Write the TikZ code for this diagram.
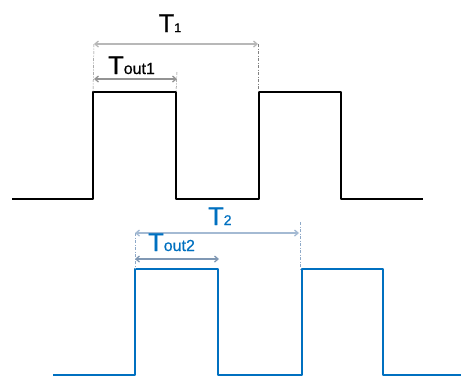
\documentclass[tikz,border=0pt]{standalone}
\usepackage{fontspec}
\setmainfont{Liberation Sans}
\newfontfamily\lblfont[FakeBold=0.6]{Liberation Sans}
\usetikzlibrary{arrows.meta}
\definecolor{wblue}{HTML}{0070C0}
\definecolor{agray}{HTML}{B8B8B8}
\definecolor{ablue}{HTML}{8EA9C8}
\newcommand\sigT[2]{T{\fontsize{#1}{#1}\selectfont #2}}
\tikzset{
  wave/.style={line width=2.8pt, line join=round},
  dim/.style={line width=1.3pt, {Straight Barb[length=3.5pt,width=6pt]}-{Straight Barb[length=3.5pt,width=6pt]}},
  ext/.style={line width=0.5pt, dash pattern=on 3pt off 1.5pt on 1pt off 1.5pt},
  lbl/.style={font=\lblfont\fontsize{25.5}{25.5}\selectfont, inner sep=0pt, anchor=base west},
}
\begin{document}
\begin{tikzpicture}[x=1pt,y=-1pt]
\useasboundingbox (0,0) rectangle (461,376);
% black waveform
\coordinate (b0) at (12,199);
\coordinate (b1) at (93,199);
\coordinate (b2) at (93,92);
\coordinate (b3) at (176,92);
\coordinate (b4) at (176,199);
\coordinate (b5) at (259,199);
\coordinate (b6) at (259,92);
\coordinate (b7) at (341,92);
\coordinate (b8) at (341,199);
\coordinate (b9) at (423,199);
\draw[wave] (b0)--(b1)--(b2)--(b3)--(b4)--(b5)--(b6)--(b7)--(b8)--(b9);
% blue waveform
\coordinate (c0) at (53,375);
\coordinate (c1) at (135,375);
\coordinate (c2) at (135,269);
\coordinate (c3) at (218,269);
\coordinate (c4) at (218,375);
\coordinate (c5) at (302,375);
\coordinate (c6) at (302,269);
\coordinate (c7) at (383,269);
\coordinate (c8) at (383,375);
\coordinate (c9) at (461,375);
\draw[wave, wblue] (c0)--(c1)--(c2)--(c3)--(c4)--(c5)--(c6)--(c7)--(c8)--(c9);
% top dimensions
\coordinate (t1a) at (94,44);
\coordinate (t1b) at (258,44);
\coordinate (t1c) at (258,92);
\coordinate (to1a) at (94,79);
\coordinate (to1b) at (177,79);
\coordinate (to1c) at (177,72);
\draw[ext, agray!70!black] (t1a) -- (b2);
\draw[ext, agray!70!black] (t1b) -- (t1c);
\draw[ext, agray!70!black] (to1c) -- (b3);
\draw[dim, agray] (t1a) -- (t1b);
\draw[dim, agray!80!black] (to1a) -- (to1b);
\node[lbl] (T1) at (158.5,32) {\sigT{12.5}{1}};
\node[lbl] (To1) at (108,74) {\sigT{16}{out1}};
% bottom dimensions
\coordinate (t2a) at (135,233);
\coordinate (t2b) at (299,233);
\coordinate (t2c) at (300,222);
\coordinate (t2d) at (300,269);
\coordinate (to2a) at (135,259);
\coordinate (to2b) at (219,259);
\draw[ext, ablue] (t2a) -- (c2);
\draw[ext, ablue] (t2c) -- (t2d);
\draw[dim, ablue!80] (t2a) -- (t2b);
\draw[dim, ablue!90!black] (to2a) -- (to2b);
\node[lbl, text=wblue] (T2) at (208,225) {\sigT{14}{2}};
\node[lbl, text=wblue] (To2) at (148,251) {\sigT{16}{out2}};
\end{tikzpicture}
\end{document}
